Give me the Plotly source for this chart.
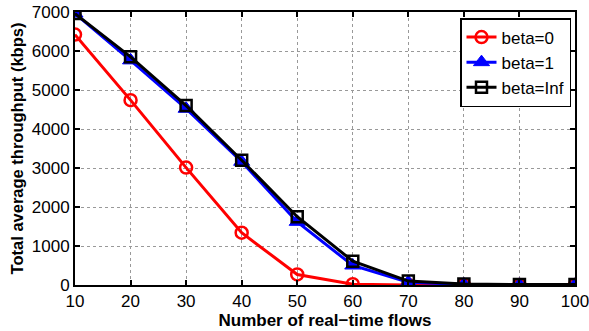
import plotly.graph_objects as go

flows = [10, 20, 30, 40, 50, 60, 70, 80, 90, 100]
beta0 = [6420, 4740, 3010, 1340, 270, 20, 0, 0, 0, 0]
beta1 = [6960, 5760, 4520, 3160, 1620, 500, 70, 15, 5, 5]
betaInf = [6960, 5850, 4600, 3200, 1750, 610, 100, 25, 10, 10]

fig = go.Figure()
fig.add_trace(go.Scatter(x=flows, y=beta0, name="beta=0", mode="lines+markers",
                         line=dict(color="#ff0000", width=3),
                         marker=dict(symbol="circle-open", size=12, color="#ff0000", line=dict(width=2.5))))
fig.add_trace(go.Scatter(x=flows, y=beta1, name="beta=1", mode="lines+markers",
                         line=dict(color="#0000ff", width=3),
                         marker=dict(symbol="triangle-up", size=14, color="#0000ff", line=dict(width=1, color="#0000ff"))))
fig.add_trace(go.Scatter(x=flows, y=betaInf, name="beta=Inf", mode="lines+markers",
                         line=dict(color="#000000", width=3),
                         marker=dict(symbol="square-open", size=11, color="#000000", line=dict(width=2.5))))

axis_common = dict(showline=True, linecolor="black", linewidth=2, mirror="ticks",
                   ticks="inside", ticklen=5, tickcolor="black", tickwidth=1.5,
                   showgrid=True, gridcolor="#999999", griddash="dot", gridwidth=1,
                   zeroline=False, automargin=False, ticklabeloverflow="allow",
                   tickfont=dict(family="Liberation Sans, Arial", size=17, color="black"))

fig.update_layout(
    width=589, height=331,
    margin=dict(l=75, r=14, t=12, b=46),
    plot_bgcolor="white", paper_bgcolor="white",
    showlegend=True,
    legend=dict(x=0.992, y=0.978, xanchor="right", yanchor="top",
                bgcolor="white", bordercolor="black", borderwidth=1.5,
                font=dict(family="Liberation Sans, Arial", size=17, color="black"),
                tracegroupgap=0),
    xaxis=dict(range=[10, 100], tickvals=flows,
               title=dict(text="<b>Number of real\u2212time flows</b>", standoff=2,
                          font=dict(family="Liberation Sans, Arial", size=17, color="black")),
               **axis_common),
    yaxis=dict(range=[0, 7000], tickvals=[0, 1000, 2000, 3000, 4000, 5000, 6000, 7000],
               title=dict(text="<b>Total average throughput (kbps)</b>", standoff=4,
                          font=dict(family="Liberation Sans, Arial", size=16.5, color="black")),
               **axis_common),
)

fig.write_html("out.html")
